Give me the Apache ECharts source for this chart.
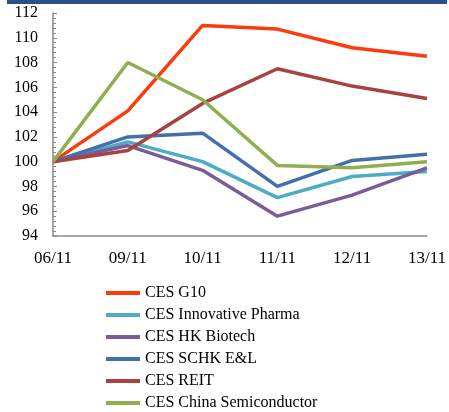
<!DOCTYPE html>
<html>
<head>
<meta charset="utf-8">
<script src="https://cdn.jsdelivr.net/npm/echarts@6/dist/echarts.min.js"></script>
<style>
html,body{margin:0;padding:0;background:#fff;}
#bar{position:absolute;left:7px;top:0;width:440px;height:4px;background:#2b4f86;}
#chart{width:449px;height:412px;}
</style>
</head>
<body>
<div id="chart"></div>
<div id="bar"></div>
<script>
const categories = ['06/11', '09/11', '10/11', '11/11', '12/11', '13/11'];
const seriesNames = ['CES G10', 'CES Innovative Pharma', 'CES HK Biotech', 'CES SCHK E&L', 'CES REIT', 'CES China Semiconductor'];
const g10 = [100, 104.1, 111.0, 110.7, 109.2, 108.5];
const pharma = [100, 101.6, 100.0, 97.1, 98.8, 99.2];
const biotech = [100, 101.3, 99.3, 95.6, 97.3, 99.5];
const schk = [100, 102.0, 102.3, 98.0, 100.1, 100.6];
const reit = [100, 100.9, 104.7, 107.5, 106.1, 105.1];
const semi = [100, 108.0, 105.0, 99.7, 99.5, 100.0];
const colors = ['#ff3a0a', '#4bacc6', '#7a5c99', '#4170aa', '#a84240', '#8fae4e'];
const allData = [g10, pharma, biotech, schk, reit, semi];

const serif = '"Liberation Serif", "DejaVu Serif", serif';
const chart = echarts.init(document.getElementById('chart'));
chart.setOption({
  animation: false,
  color: colors,
  grid: { left: 53, right: 21, top: 13, bottom: 176 },
  legend: {
    orient: 'vertical',
    left: 106,
    top: 285,
    height: 130,
    padding: 0,
    itemWidth: 34,
    itemHeight: 4,
    itemGap: 6,
    icon: 'rect',
    data: seriesNames,
    textStyle: { fontFamily: serif, fontSize: 16, color: '#000', lineHeight: 16 }
  },
  xAxis: {
    type: 'category',
    data: categories,
    boundaryGap: false,
    axisLine: { lineStyle: { color: '#8a8a8a', width: 1.5 } },
    axisTick: { show: false },
    axisLabel: { fontFamily: serif, fontSize: 17, color: '#000', margin: 14 }
  },
  yAxis: {
    type: 'value',
    min: 94,
    max: 112,
    interval: 2,
    axisLine: { show: true, lineStyle: { color: '#8a8a8a', width: 1.5 } },
    axisTick: { show: true, inside: true, length: 4, lineStyle: { color: '#8a8a8a' } },
    minorTick: { show: true, splitNumber: 5, length: 3, lineStyle: { color: '#8a8a8a' } },
    splitLine: { show: false },
    axisLabel: { fontFamily: serif, fontSize: 16, color: '#000', margin: 15 }
  },
  series: seriesNames.map((n, i) => ({
    name: n,
    type: 'line',
    data: allData[i],
    symbol: 'none',
    lineStyle: { width: 3.5, color: colors[i] },
    itemStyle: { color: colors[i] }
  }))
});
</script>
</body>
</html>
